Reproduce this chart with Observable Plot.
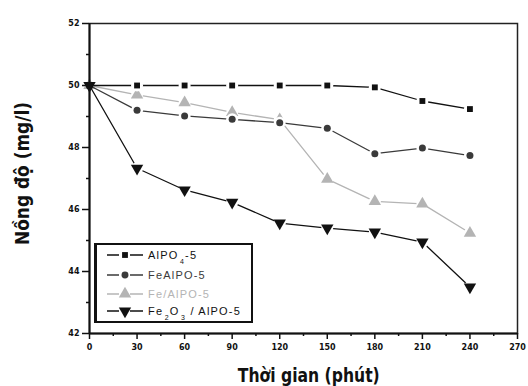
<!DOCTYPE html>
<html><head><meta charset="utf-8">
<script src="https://cdn.jsdelivr.net/npm/d3@7"></script>
<script src="https://cdn.jsdelivr.net/npm/@observablehq/plot@0.6"></script>
<style>
body{margin:0;background:#fff;}
#wrap{position:relative;width:528px;height:386px;overflow:hidden;}
.ttl{position:absolute;font-family:"DejaVu Sans";font-stretch:condensed;font-weight:bold;color:#111;white-space:nowrap;font-size:19px;line-height:19px;}
#leg{position:absolute;left:94px;top:243px;}
</style></head><body>
<div id="wrap"><div class="ttl" id="xl">Thời gian (phút)</div><div class="ttl" id="yl">Nồng độ (mg/l)</div><div id="leg"></div></div>
<script>
// ---- data ----
const times = [0, 30, 60, 90, 120, 150, 180, 210, 240];
const seriesNames = ["AlPO4-5", "FeAlPO-5", "Fe/AlPO-5", "Fe2O3 / AlPO-5"];
const alpo4 = [50, 50, 50, 50, 50, 50, 49.94, 49.5, 49.24];
const feAlpo = [50, 49.2, 49.02, 48.91, 48.8, 48.62, 47.8, 47.98, 47.74];
const feSlashAlpo = [50, 49.7, 49.45, 49.13, 48.9, 46.98, 46.26, 46.18, 45.24];
const fe2o3Alpo = [50, 47.33, 46.63, 46.23, 45.56, 45.4, 45.27, 44.95, 43.5];
const xTicks = [0, 30, 60, 90, 120, 150, 180, 210, 240, 270];
const xMinor = [15, 45, 75, 105, 135, 165, 195, 225, 255];
const yTicks = [42, 44, 46, 48, 50, 52];
const yMinor = [43, 45, 47, 49, 51];

const triDown = {draw(ctx, size) {
  const s = Math.sqrt(size / (Math.sqrt(3) / 4));
  const h = s * Math.sqrt(3) / 2;
  ctx.moveTo(-s/2, -h/3); ctx.lineTo(s/2, -h/3); ctx.lineTo(0, 2*h/3); ctx.closePath();
}};

const styles = [
  {vals: alpo4, color: "#111", symbol: "square", r: 3.3},
  {vals: feAlpo, color: "#3a3a3a", symbol: "circle", r: 3.5},
  {vals: feSlashAlpo, color: "#b4b4b4", symbol: "triangle", r: 4.6},
  {vals: fe2o3Alpo, color: "#111", symbol: triDown, r: 4.6}
];
const tables = styles.map((s, i) => times.map((t, j) => ({t, v: s.vals[j], s: seriesNames[i]})));
const order = [2, 1, 3, 0];
const seriesMarks = order.flatMap(i => {
  const st = styles[i];
  return [
    Plot.line(tables[i], {x: "t", y: "v", stroke: st.color, strokeWidth: 1.3}),
    Plot.dot(tables[i].slice(1), {x: "t", y: "v", r: 6, fill: "white", stroke: null}),
    Plot.dot(tables[i], {x: "t", y: "v", r: st.r, symbol: () => st.symbol, fill: st.color, stroke: null})
  ];
});

const tickFont = {fontSize: 8, fontWeight: "bold", fontFamily: "DejaVu Sans"};
const chart = Plot.plot({
  width: 528, height: 386,
  marginLeft: 89, marginRight: 11, marginTop: 23, marginBottom: 53,
  style: {background: "white", color: "#111", fontFamily: "DejaVu Sans"},
  x: {domain: [0, 270], label: null},
  y: {domain: [42, 52], label: null},
  marks: [
    ...seriesMarks,
    Plot.frame({stroke: "#222", strokeWidth: 1.5}),
    Plot.ruleX([0], {stroke: "#111", strokeWidth: 2}),
    Plot.ruleY([42], {stroke: "#111", strokeWidth: 2}),
    Plot.axisY({ticks: yTicks, tickSize: 7, tickPadding: 3, tickFormat: d => String(d), strokeWidth: 1.5, ...tickFont}),
    Plot.axisY({ticks: yMinor, tickSize: 3, tickFormat: () => "", strokeWidth: 1.5}),
    Plot.axisX({ticks: xTicks, tickSize: 6, tickPadding: 5, tickFormat: d => String(d), strokeWidth: 1.5, ...tickFont}),
    Plot.axisX({ticks: xMinor, tickSize: 3, tickFormat: () => "", strokeWidth: 1.5})
  ]
});
document.getElementById("wrap").prepend(chart);

// ---- axis titles: condensed to the reference's width ----
function placeTitle(id, cx, cy, targetLen, rotate) {
  const el = document.getElementById(id);
  const w = el.getBoundingClientRect().width;
  const k = targetLen / w;
  el.style.left = (cx - w / 2) + "px";
  el.style.top = (cy - 9.5) + "px";
  el.style.transformOrigin = "50% 50%";
  el.style.transform = (rotate ? "rotate(-90deg) " : "") + `scaleX(${k})`;
}
placeTitle("xl", 309, 375, 142, false);
placeTitle("yl", 22, 173, 143, true);

// ---- legend ----
const legW = 159, legH = 80;
const svg = d3.select("#leg").append("svg").attr("width", legW).attr("height", legH);
svg.append("rect").attr("x", 1).attr("y", 1).attr("width", legW - 2).attr("height", legH - 2)
  .attr("fill", "white").attr("stroke", "#111").attr("stroke-width", 2);
svg.append("line").attr("x1", 1.5).attr("x2", 1.5).attr("y1", 0).attr("y2", legH).attr("stroke", "#111").attr("stroke-width", 3);
const rowsY = [12, 32, 51, 68];
const legSym = [d3.symbolSquare, d3.symbolCircle, d3.symbolTriangle, null];
const legSize = [34, 38, 66, 66];
const labels = [
  [["AlPO", 0], ["4", 1], ["-5", 0]],
  [["FeAlPO-5", 0]],
  [["Fe/AlPO-5", 0]],
  [["Fe", 0], ["2", 1], ["O", 0], ["3", 1], [" / AlPO-5", 0]]
];
styles.forEach((st, i) => {
  const y = rowsY[i];
  const g = svg.append("g");
  g.append("line").attr("x1", 13).attr("x2", 25).attr("y1", y).attr("y2", y).attr("stroke", st.color).attr("stroke-width", 1.5);
  g.append("line").attr("x1", 36).attr("x2", 49).attr("y1", y).attr("y2", y).attr("stroke", st.color).attr("stroke-width", 1.5);
  const sym = legSym[i] ? d3.symbol(legSym[i], legSize[i])() : (() => { const p = d3.path(); triDown.draw(p, legSize[i]); return p.toString(); })();
  g.append("path").attr("d", sym).attr("transform", `translate(31,${y})`).attr("fill", st.color);
  const tx = g.append("text").attr("x", 54).attr("y", y + 4).attr("fill", st.color)
    .attr("font-family", "Liberation Sans, Arial").attr("font-size", 11).attr("letter-spacing", 1.2);
  let prevSub = false;
  labels[i].forEach(([s, sub]) => {
    const dy = sub ? 4.5 : (prevSub ? -4.5 : 0);
    tx.append("tspan").text(s).attr("font-size", sub ? 7 : 11).attr("dy", dy).attr("dx", sub ? 1.5 : 0);
    prevSub = !!sub;
  });
});
</script>
</body></html>
